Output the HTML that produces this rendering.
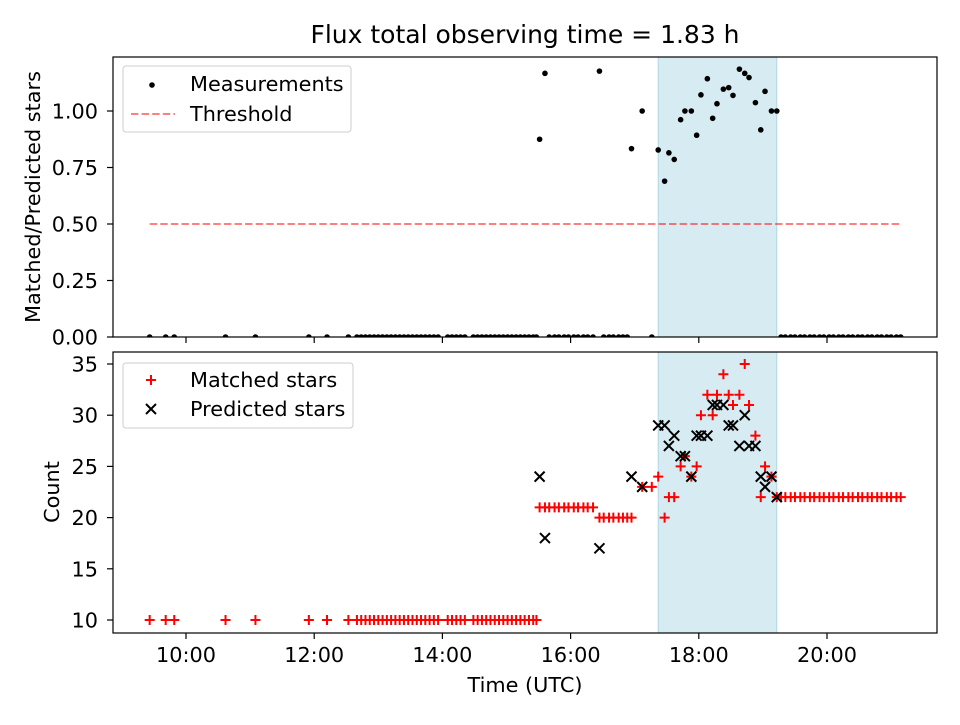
<!DOCTYPE html>
<html><head><meta charset="utf-8"><style>
body{margin:0;background:#fff;}
svg text{font-family:"DejaVu Sans","Liberation Sans",sans-serif;fill:#000;}
</style></head><body>
<svg id="chart" width="960" height="720" viewBox="0 0 960 720" xmlns="http://www.w3.org/2000/svg"></svg>
<script>
const times=["09:26","09:41","09:49","10:37","11:05","11:55","12:12","12:32","12:40","12:44","12:48","12:52","12:56","13:00","13:04","13:08","13:12","13:16","13:20","13:24","13:28","13:32","13:36","13:40","13:44","13:48","13:52","13:56","14:05","14:09","14:13","14:17","14:21","14:29","14:33","14:37","14:41","14:45","14:49","14:53","14:57","15:01","15:05","15:09","15:13","15:17","15:21","15:25","15:28",
"15:31","15:36","15:40","15:45","15:49","15:54","15:58","16:03","16:07","16:12","16:16","16:21",
"16:27","16:31","16:36","16:40","16:45","16:49","16:53","16:57","17:07","17:16",
"17:22","17:28","17:32","17:37","17:43","17:47","17:53","17:58","18:02","18:08","18:13","18:17","18:23","18:28","18:32","18:38","18:43","18:47","18:53","18:58","19:02","19:08","19:13",
"19:17","19:21","19:26","19:30","19:35","19:39","19:44","19:48","19:53","19:57","20:02","20:06","20:11","20:15","20:20","20:24","20:29","20:33","20:38","20:42","20:47","20:51","20:56","21:00","21:05","21:09"];
const matched=[10,10,10,10,10,10,10,10,10,10,10,10,10,10,10,10,10,10,10,10,10,10,10,10,10,10,10,10,10,10,10,10,10,10,10,10,10,10,10,10,10,10,10,10,10,10,10,10,10,
21,21,21,21,21,21,21,21,21,21,21,21,
20,20,20,20,20,20,20,20,23,23,
24,20,22,22,25,26,24,25,30,32,30,32,34,32,31,32,35,31,28,22,25,24,22,
22,22,22,22,22,22,22,22,22,22,22,22,22,22,22,22,22,22,22,22,22,22,22,22,22,22];
const predicted=[0,0,0,0,0,0,0,0,0,0,0,0,0,0,0,0,0,0,0,0,0,0,0,0,0,0,0,0,0,0,0,0,0,0,0,0,0,0,0,0,0,0,0,0,0,0,0,0,0,
24,18,0,0,0,0,0,0,0,0,0,0,
17,0,0,0,0,0,0,24,23,0,
29,29,27,28,26,26,24,28,28,28,31,31,31,29,29,27,30,27,27,24,23,24,22,
0,0,0,0,0,0,0,0,0,0,0,0,0,0,0,0,0,0,0,0,0,0,0,0,0,0];
const threshold=0.5;
const spanStart="17:22", spanEnd="19:13";
const xTicks=["10:00","12:00","14:00","16:00","18:00","20:00"];
const topTicks=[0,0.25,0.5,0.75,1.0];
const botTicks=[10,15,20,25,30,35];

const NS="http://www.w3.org/2000/svg";
const svg=document.getElementById('chart');
const L=113,R=937,T1=57,B1=337,T2=352,B2=633,FS=20.8;
function hrs(s){const p=s.split(':');return +p[0]+p[1]/60;}
function X(s){return 186+(hrs(s)-10)*64.1;}
function Y1(v){return 337-v*226;}
function Y2(v){return 620-(v-10)*10.24;}
function el(tag,attrs,parent){const e=document.createElementNS(NS,tag);for(const k in attrs)e.setAttribute(k,attrs[k]);(parent||svg).appendChild(e);return e;}
function txt(x,y,s,anchor,size,parent){const t=el('text',{x:x,y:y,'text-anchor':anchor||'middle','font-size':size||FS},parent);t.textContent=s;return t;}

const defs=el('defs',{});
const c1=el('clipPath',{id:'c1'},defs);el('rect',{x:L,y:T1,width:R-L,height:B1-T1},c1);
const c2=el('clipPath',{id:'c2'},defs);el('rect',{x:L,y:T2,width:R-L,height:B2-T2},c2);

const title=txt(525,43,'Flux total observing time = 1.83 h','middle',25);



[[T1,B1,'top'],[T2,B2,'bottom']].forEach(([t,b,n])=>{
  const s=el('rect',{x:X(spanStart),y:t,width:X(spanEnd)-X(spanStart),height:b-t,fill:'#add8e6','fill-opacity':0.5,stroke:'#add8e6','stroke-width':1});
  
  
});

const g1=el('g',{'clip-path':'url(#c1)'});


const th=el('line',{x1:X(times[0]),x2:X(times[times.length-1]),y1:Y1(threshold),y2:Y1(threshold),stroke:'#ff0000','stroke-opacity':0.5,'stroke-width':2,'stroke-dasharray':'7.4,3.2'},g1);


times.forEach((t,i)=>{
  const r=predicted[i]>0?matched[i]/predicted[i]:0;
  const d=el('circle',{cx:X(t),cy:Y1(r),r:2.8,fill:'#000'},g1);
  
  
});

const g2=el('g',{'clip-path':'url(#c2)'});


times.forEach((t,i)=>{
  const x=X(t),y=Y2(matched[i]);
  const p=el('path',{d:`M${x-5},${y}H${x+5}M${x},${y-5}V${y+5}`,stroke:'#ff0000','stroke-width':2},g2);
  
  
});
times.forEach((t,i)=>{
  const x=X(t),y=Y2(predicted[i]);
  const p=el('path',{d:`M${x-5},${y-5}L${x+5},${y+5}M${x-5},${y+5}L${x+5},${y-5}`,stroke:'#000','stroke-width':2},g2);
  
  
});

[[T1,B1],[T2,B2]].forEach(([t,b],k)=>{
  const f=el('rect',{x:L,y:t,width:R-L,height:b-t,fill:'none',stroke:'#000','stroke-width':1.2});
  
  
});

xTicks.forEach(s=>{
  const x=X(s);
  el('line',{x1:x,x2:x,y1:B1,y2:B1+6,stroke:'#000','stroke-width':1.2});
  el('line',{x1:x,x2:x,y1:B2,y2:B2+6,stroke:'#000','stroke-width':1.2});
  const t=txt(x,662,s,'middle');
  
  
});
topTicks.forEach(v=>{
  const y=Y1(v);
  el('line',{x1:L-6,x2:L,y1:y,y2:y,stroke:'#000','stroke-width':1.2});
  const t=txt(L-15,y+7.5,v.toFixed(2),'end');
  
  
});
botTicks.forEach(v=>{
  const y=Y2(v);
  el('line',{x1:L-6,x2:L,y1:y,y2:y,stroke:'#000','stroke-width':1.2});
  const t=txt(L-15,y+7.5,String(v),'end');
  
  
});
const xl=txt(525,692,'Time (UTC)','middle');


const yl1=txt(0,0,'Matched/Predicted stars','middle');
yl1.setAttribute('transform','translate(40,197) rotate(-90)');


const yl2=txt(0,0,'Count','middle');
yl2.setAttribute('transform','translate(59,492) rotate(-90)');



const lg1=el('g',{});


el('rect',{x:123,y:66,width:228,height:66,rx:3,fill:'#fff','fill-opacity':0.8,stroke:'#ccc'},lg1);
el('circle',{cx:152,cy:85,r:2.8,fill:'#000'},lg1);
txt(190,91,'Measurements','start',FS,lg1);
el('line',{x1:131,x2:175,y1:114,y2:114,stroke:'#ff0000','stroke-opacity':0.5,'stroke-width':2,'stroke-dasharray':'7.4,3.2'},lg1);
txt(190,121,'Threshold','start',FS,lg1);

const lg2=el('g',{});


el('rect',{x:123,y:363,width:230,height:65,rx:3,fill:'#fff','fill-opacity':0.8,stroke:'#ccc'},lg2);
el('path',{d:'M146,380H156M151,375V385',stroke:'#ff0000','stroke-width':2},lg2);
txt(190,387,'Matched stars','start',FS,lg2);
el('path',{d:'M146,404L156,414M146,414L156,404',stroke:'#000','stroke-width':2},lg2);
txt(190,416,'Predicted stars','start',FS,lg2);
</script>
</body></html>
